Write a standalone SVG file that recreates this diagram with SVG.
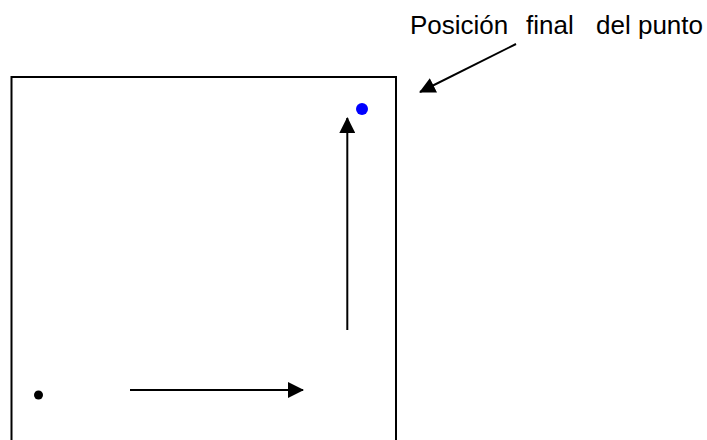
<svg xmlns="http://www.w3.org/2000/svg" width="707" height="440" viewBox="0 0 707 440">
  <style>
    .label { font-family: "Liberation Sans", Arial, sans-serif; font-size: 26px; fill: #000; }
    .conn { stroke: #000; stroke-width: 2; fill: none; marker-end: url(#arrow); }
  </style>
  <defs>
    <marker id="arrow" markerUnits="userSpaceOnUse" viewBox="0 0 16 16" markerWidth="16" markerHeight="16" refX="15" refY="8" orient="auto">
      <path d="M0,0 L16,8 L0,16 Z" fill="#000"/>
    </marker>
  </defs>
  <rect width="707" height="440" fill="#fff"/>

  <!-- area boundary (open at the bottom edge of the frame) -->
  <g id="area">
    <rect x="11.5" y="77" width="384.5" height="400" fill="none" stroke="#000" stroke-width="2"/>
  </g>

  <!-- starting point -->
  <g id="start-point">
    <circle cx="38.5" cy="395" r="4.5" fill="#000"/>
  </g>

  <!-- final position of the point -->
  <g id="final-point">
    <circle cx="362" cy="109" r="6" fill="#0000ff"/>
  </g>

  <!-- caption -->
  <g id="caption">
    <text class="label" x="410" y="34">Posición</text>
    <text class="label" x="526" y="34">final</text>
    <text class="label" x="596" y="34">del punto</text>
  </g>

  <!-- movement arrows and caption pointer -->
  <g id="connectors">
    <line class="conn" x1="130" y1="390" x2="303" y2="390"/>
    <line class="conn" x1="347.3" y1="330" x2="347.3" y2="118"/>
    <line class="conn" x1="516" y1="44" x2="420" y2="92"/>
  </g>
</svg>
